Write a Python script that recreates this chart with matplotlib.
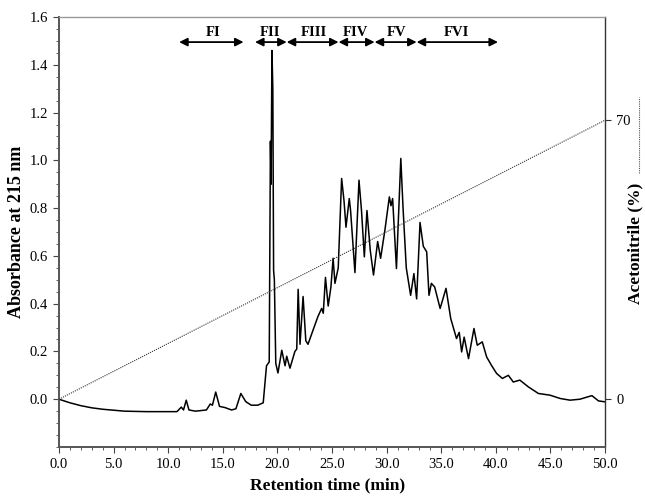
import numpy as np
import matplotlib
matplotlib.use('Agg')
import matplotlib.pyplot as plt
from matplotlib.ticker import MultipleLocator, FormatStrFormatter
from matplotlib.lines import Line2D

plt.rcParams['font.family'] = ['Liberation Serif', 'DejaVu Serif']

# --- chromatogram ---------------------------------------------------------
t_min = [0, 1, 2, 3, 4, 5, 6, 8, 10, 10.8, 11.2, 11.4, 11.65, 11.9, 12.5,
         13.5, 13.85, 14.05, 14.35, 14.7, 15.2, 15.8, 16.2, 16.65, 17.1,
         17.6, 18.2, 18.7, 19.0, 19.25, 19.36, 19.42, 19.5, 19.58, 19.65,
         19.72, 19.85, 20.05, 20.4, 20.7, 20.85, 21.15, 21.6, 21.77, 21.9,
         22.07, 22.35, 22.6, 22.8, 23.27, 23.7, 24.05, 24.2, 24.4, 24.65,
         24.9, 25.1, 25.27, 25.57, 25.88, 26.1, 26.28, 26.58, 26.7, 27.1,
         27.47, 27.7, 27.96, 28.2, 28.5, 28.8, 29.18, 29.45, 29.85, 30.25,
         30.4, 30.55, 30.9, 31.3, 31.5, 31.8, 32.2, 32.5, 32.75, 33.06,
         33.36, 33.67, 33.88, 34.1, 34.4, 34.9, 35.44, 35.87, 36.4, 36.65,
         36.87, 37.1, 37.5, 38.0, 38.3, 38.76, 39.16, 39.6, 40.07, 40.6,
         41.15, 41.6, 42.2, 42.97, 43.9, 44.96, 45.9, 46.8, 47.7, 48.8,
         49.4, 50]
absorb = [0.0, -0.015, -0.027, -0.036, -0.042, -0.046, -0.05, -0.052,
          -0.052, -0.052, -0.033, -0.045, -0.004, -0.045, -0.05,
          -0.045, -0.02, -0.025, 0.03, -0.03, -0.035, -0.045, -0.04,
          0.024, -0.01, -0.025, -0.025, -0.015, 0.14, 0.156, 1.08, 0.9,
          1.46, 1.3, 0.54, 0.5, 0.15, 0.11, 0.205, 0.14, 0.18, 0.13,
          0.2, 0.21, 0.46, 0.23, 0.43, 0.245, 0.23, 0.29, 0.345, 0.38,
          0.36, 0.51, 0.39, 0.47, 0.59, 0.485, 0.55, 0.924, 0.83, 0.72,
          0.84, 0.79, 0.53, 0.917, 0.79, 0.596, 0.79, 0.624, 0.52, 0.66,
          0.59, 0.71, 0.847, 0.81, 0.84, 0.547, 1.008, 0.805, 0.55,
          0.435, 0.526, 0.42, 0.74, 0.64, 0.617, 0.435, 0.485, 0.47,
          0.38, 0.464, 0.338, 0.254, 0.28, 0.198, 0.26, 0.17, 0.296,
          0.226, 0.24, 0.177, 0.142, 0.108, 0.087, 0.10, 0.072, 0.08,
          0.052, 0.024, 0.017, 0.003, -0.004, 0.0, 0.015, -0.007, -0.011]

# --- gradient ----------------------------------------------------------------
acn_time = [0, 50]
acn_pct = [0, 70]

# --- fractions ---------------------------------------------------------------
frac_names = ['FI', 'FII', 'FIII', 'FIV', 'FV', 'FVI']
frac_start = [11.0, 17.95, 20.85, 25.6, 28.9, 32.75]
frac_end = [16.9, 20.85, 25.6, 28.9, 32.75, 40.2]
frac_label_x = [14.1, 19.3, 23.3, 27.1, 30.9, 36.4]
ARROW_Y = 1.495


def main():
    fig = plt.figure(figsize=(6.45, 4.96), dpi=100)
    ax = fig.add_axes([0.0915, 0.0988, 0.8465, 0.8669])

    ax.plot(t_min, absorb, color='black', lw=1.1)
    ax.set_xlim(0, 50)
    ax.set_ylim(-0.2, 1.6)
    ax.set_yticks(np.arange(0, 1.61, 0.2))
    ax.xaxis.set_major_locator(MultipleLocator(5))
    ax.xaxis.set_minor_locator(MultipleLocator(1))
    ax.yaxis.set_minor_locator(MultipleLocator(0.05))
    ax.xaxis.set_major_formatter(FormatStrFormatter('%.1f'))
    ax.yaxis.set_major_formatter(FormatStrFormatter('%.1f'))
    ax.tick_params(which='both', direction='out', labelsize=10.5,
                   color='#444444', right=False, top=False)
    ax.tick_params(which='major', length=4.5)
    ax.tick_params(which='minor', length=2.5)

    for side, col, lw in [('left', '#555555', 1.4), ('bottom', '#555555', 1.4),
                          ('top', '#999999', 1.0), ('right', '#333333', 1.0)]:
        ax.spines[side].set_color(col)
        ax.spines[side].set_linewidth(lw)

    ax.set_ylabel('Absorbance at 215 nm', fontsize=13, fontweight='bold',
                  labelpad=3)
    fig.text(0.5085, 0.022, 'Retention time (min)', ha='center', va='center',
             fontsize=12.5, fontweight='bold')

    ax2 = ax.twinx()
    scale = 70 / 1.168
    ax2.set_ylim(-0.2 * scale, 1.6 * scale)
    ax2.plot(acn_time, acn_pct, color='#333333', lw=0.8,
             linestyle=(0, (1, 1)))
    ax2.set_yticks([0, 70])
    ax2.tick_params(direction='out', length=4.5, labelsize=10.5,
                    color='#333333')
    for s in ax2.spines.values():
        s.set_visible(False)

    for name, a, b, lx in zip(frac_names, frac_start, frac_end, frac_label_x):
        ax.annotate('', xy=(a, ARROW_Y), xytext=(b, ARROW_Y),
                    arrowprops=dict(arrowstyle='<|-|>', color='black',
                                    lw=1.3, mutation_scale=12,
                                    shrinkA=0, shrinkB=0))
        ax.text(lx, ARROW_Y + 0.015, name, ha='center', va='bottom',
                fontsize=10.5, fontweight='bold')

    fig.text(0.985, 0.51, 'Acetonitrile (%)', rotation=90, ha='center',
             va='center', fontsize=12.5, fontweight='bold')
    fig.add_artist(Line2D([0.99, 0.99], [0.652, 0.804],
                          transform=fig.transFigure, color='#555555',
                          lw=0.8, linestyle=(0, (1, 1))))

    fig.savefig('out.png', dpi=100)


if __name__ == '__main__':
    main()
